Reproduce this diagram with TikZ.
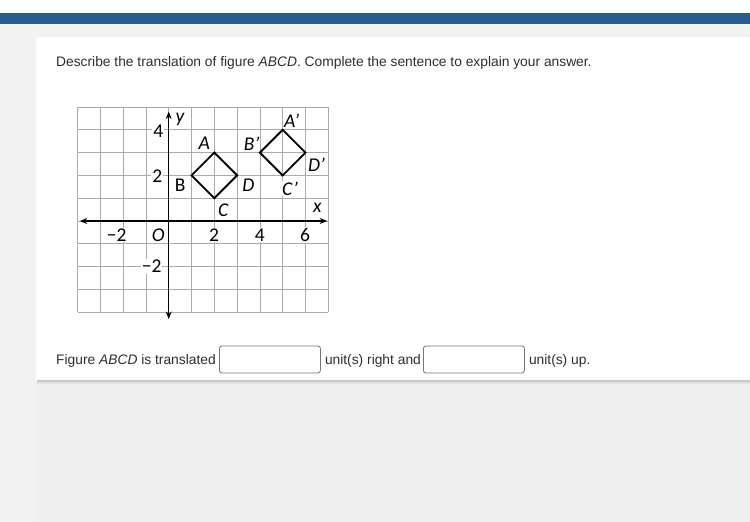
\documentclass[tikz,border=0pt]{standalone}
\usepackage{fontspec}
\setmainfont{Liberation Sans}
\newfontfamily\graphfont{Carlito}
\usetikzlibrary{arrows.meta}
\usetikzlibrary{positioning}
\definecolor{topbar}{HTML}{2A5C94}
\definecolor{pagegray}{HTML}{F2F2F2}
\definecolor{lowgray}{HTML}{EFEFEF}
\definecolor{gridgray}{HTML}{ABABAB}
\definecolor{boxgray}{HTML}{767676}
\definecolor{textgray}{HTML}{2E2E2E}

\begin{document}
\begin{tikzpicture}[
    x=1pt, y=-1pt,
    axis/.style={<->, >={Stealth[length=7.5pt,width=6pt]}, line width=1.1pt},
    square line/.style={line width=1.9pt, line join=miter},
    grid line/.style={gridgray, line width=0.7pt},
    answer box/.style={draw=boxgray, fill=white, rounded corners=2.5pt, line width=0.8pt,
        minimum width=101pt, minimum height=27pt, inner sep=0pt},
    prompt/.style={font=\fontsize{13.8}{16}\selectfont, text=textgray, inner sep=0pt},
    tick label/.style={font=\graphfont\fontsize{19.5}{21}\selectfont, fill=white, inner sep=1pt},
    point label/.style={font=\graphfont\fontsize{19.5}{21}\selectfont\itshape, fill=white, inner sep=1pt},
    every node/.style={color=black}
    ]

    % page and card
    \useasboundingbox (0,0) rectangle (750,522);
    \fill[white] (0,0) rectangle (750,13);
    \fill[topbar] (0,13) rectangle (750,24);
    \fill[pagegray] (0,24) rectangle (750,522);
    \fill[lowgray] (36,384) rectangle (750,522);
    \fill[black!12] (37,379) rectangle (750,384);
    \fill[black!22] (37,379) rectangle (750,382);
    \fill[white] (36,37) rectangle (750,380);

    % question
    \node[prompt, anchor=base west] (question) at (56,66)
        {Describe the translation of figure \textit{ABCD}. Complete the sentence to explain your answer.};

    % coordinate plane
    \begin{scope}[shift={(168.7,221)}, x=22.8pt, y=22.8pt]
    \draw[grid line, step=1] (-4,-4) grid (7,5);
    \coordinate (xmin) at (-3.9,0);
    \coordinate (xmax) at (6.95,0);
    \coordinate (ymin) at (0,-4.3);
    \coordinate (ymax) at (0,4.8);
    \draw[axis] (xmin) -- (xmax);
    \draw[axis] (ymin) -- (ymax);
    % figure ABCD and its image
    \coordinate (A) at (2,3);
    \coordinate (B) at (1,2);
    \coordinate (C) at (2,1);
    \coordinate (D) at (3,2);
    \coordinate (A1) at (5,4);
    \coordinate (B1) at (4,3);
    \coordinate (C1) at (5,2);
    \coordinate (D1) at (6,3);
    \draw[square line] (A) -- (D) -- (C) -- (B) -- cycle;
    \draw[square line] (A1) -- (D1) -- (C1) -- (B1) -- cycle;
    % tick labels
    \node[tick label] (ytick4) at (-0.46,3.92) {4};
    \node[tick label] (ytick2) at (-0.5,1.97) {2};
    \node[tick label] (ytickm2) at (-0.75,-2.0) {−2};
    \node[tick label] (xtickm2) at (-2.28,-0.61) {−2};
    \node[point label] (origin) at (-0.46,-0.61) {O};
    \node[tick label] (xtick2) at (1.99,-0.61) {2};
    \node[tick label] (xtick4) at (4.0,-0.61) {4};
    \node[tick label] (xtick6) at (5.98,-0.61) {6};
    \node[point label] (ylabel) at (0.5,4.45) {y};
    \node[point label] (xlabel) at (6.52,0.56) {x};
    % vertex labels
    \node[point label] (Alabel) at (1.56,3.41) {A};
    \node[tick label] (Blabel) at (0.5,1.58) {B};
    \node[point label] (Clabel) at (2.39,0.48) {C};
    \node[point label] (Dlabel) at (3.49,1.58) {D};
    \node[point label] (A1label) at (5.39,4.40) {A’};
    \node[point label] (B1label) at (3.64,3.41) {B’};
    \node[point label] (C1label) at (5.32,1.43) {C’};
    \node[point label] (D1label) at (6.49,2.46) {D’};
    \end{scope}

    % answer sentence
    \node[prompt, anchor=base west] (part1) at (56,364) {Figure \textit{ABCD} is translated};
    \node[answer box, anchor=west] (box1) at (219,359.5) {};
    \node[prompt, anchor=base west] (part2) at ([xshift=4pt]box1.east |- part1.base) {unit(s) right and};
    \node[answer box, anchor=west] (box2) at (423,359.5) {};
    \node[prompt, anchor=base west] (part3) at ([xshift=4pt]box2.east |- part1.base) {unit(s) up.};

\end{tikzpicture}
\end{document}
